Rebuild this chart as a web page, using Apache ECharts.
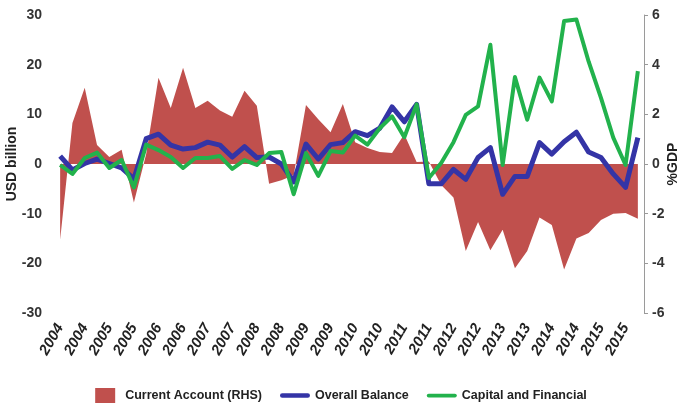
<!DOCTYPE html>
<html>
<head>
<meta charset="utf-8">
<script src="https://cdn.jsdelivr.net/npm/echarts@6/dist/echarts.min.js"></script>
<style>
html,body{margin:0;padding:0;background:#fff;}
#chart{width:682px;height:417px;}
</style>
</head>
<body>
<div id="chart"></div>
<script>
const years = ['2004','2005','2006','2007','2008','2009','2010','2011','2012','2013','2014','2015'];
const quarters = ['Q1','Q2','Q3','Q4'];
const categories = [];
years.forEach(y => quarters.forEach(q => categories.push(y + ' ' + q)));

// Current account, % of GDP (right axis)
const currentAccount = [
  -3.05, 1.65, 3.07, 0.77, 0.28, 0.57, -1.55, 0.4,
  3.47, 2.26, 3.88, 2.26, 2.55, 2.15, 1.9, 2.95,
  2.35, -0.8, -0.65, -0.45, 2.38, 1.8, 1.28, 2.42,
  0.88, 0.64, 0.48, 0.44, 1.2, 0.08, 0.1, -0.85,
  -1.35, -3.5, -2.34, -3.47, -2.65, -4.2, -3.5, -2.15,
  -2.46, -4.25, -3.0, -2.78, -2.25, -2.0, -1.97, -2.2
];
// Overall balance, USD billion (left axis)
const overallBalance = [
  1.6, -1.2, 0.1, 1.0, 0.1, -0.8, -3.0, 5.1,
  6.0, 3.8, 3.0, 3.3, 4.4, 3.8, 1.4, 3.5,
  1.3, 1.4, 0.0, -3.6, 4.0, 1.0, 3.9, 4.3,
  6.5, 5.7, 7.2, 11.5, 8.5, 12.0, -4.0, -4.0,
  -1.1, -3.1, 1.3, 3.3, -6.1, -2.5, -2.5, 4.3,
  2.0, 4.5, 6.4, 2.4, 1.3, -2.0, -4.7, 5.3
];
// Capital and financial account, USD billion (left axis)
const capitalFinancial = [
  -0.2, -2.0, 1.2, 2.3, -0.8, 0.8, -4.7, 3.9,
  2.8, 1.4, -0.8, 1.2, 1.2, 1.6, -1.0, 0.8,
  -0.2, 2.2, 2.4, -6.1, 2.2, -2.4, 2.6, 2.3,
  5.7, 3.9, 7.2, 9.6, 5.4, 12.0, -2.8, 0.2,
  4.4, 9.9, 11.6, 24.0, -0.2, 17.5, 8.9, 17.4,
  12.6, 28.8, 29.1, 20.6, 13.3, 5.3, -0.2, 18.7
];

const FONT = "'Liberation Sans Narrow', 'Liberation Sans', Arial, sans-serif";
const chart = echarts.init(document.getElementById('chart'), null, {renderer: 'canvas'});
chart.setOption({
  animation: false,
  backgroundColor: '#ffffff',
  grid: {left: 54, right: 38, top: 15, bottom: 104, containLabel: false, outerBoundsMode: 'none'},
  legend: {
    bottom: 9,
    left: 'center',
    itemGap: 18,
    itemWidth: 30,
    itemHeight: 15,
    textStyle: {fontFamily: FONT, fontWeight: 'bold', fontSize: 12.5, color: '#222'},
    data: [
      {name: 'Current Account (RHS)', icon: 'path://M0,0 L20,0 L20,15 L0,15 Z', symbolKeepAspect: true, itemStyle: {color: '#C0504D'}},
      {name: 'Overall Balance', icon: 'path://M2,0 L30,0 A2.5,2.5 0 0 1 30,5 L2,5 A2.5,2.5 0 0 1 2,0 Z', symbolKeepAspect: true, itemStyle: {color: '#3434A6'}},
      {name: 'Capital and Financial', icon: 'path://M2,0 L30,0 A2,2 0 0 1 30,4 L2,4 A2,2 0 0 1 2,0 Z', symbolKeepAspect: true, itemStyle: {color: '#22B24C'}}
    ]
  },
  xAxis: {
    type: 'category',
    data: categories,
    boundaryGap: true,
    axisLine: {show: false},
    axisTick: {show: false},
    splitLine: {show: false},
    axisLabel: {
      interval: 1,
      rotate: 60,
      margin: 12,
      fontFamily: FONT,
      fontWeight: 'bold',
      fontStyle: 'italic',
      fontSize: 15,
      color: '#222',
      formatter: v => v.slice(0, 4)
    }
  },
  yAxis: [
    {
      type: 'value', min: -30, max: 30, interval: 10,
      name: 'USD billion', nameLocation: 'middle', nameGap: 35, nameRotate: 90, nameMoveOverlap: false,
      nameTextStyle: {fontFamily: FONT, fontWeight: 'bold', fontSize: 14, color: '#222'},
      axisLine: {show: false}, axisTick: {show: false}, splitLine: {show: false},
      axisLabel: {fontFamily: FONT, fontWeight: 'bold', fontSize: 14, color: '#333', margin: 12}
    },
    {
      type: 'value', min: -6, max: 6, interval: 2, position: 'right',
      name: '%GDP', nameLocation: 'middle', nameGap: 22, nameRotate: 90, nameMoveOverlap: false,
      nameTextStyle: {fontFamily: FONT, fontWeight: 'bold', fontSize: 14, color: '#222'},
      axisLine: {show: true, lineStyle: {color: '#9a9a9a', width: 1}},
      axisTick: {show: true, length: 4, lineStyle: {color: '#9a9a9a'}},
      splitLine: {show: false},
      axisLabel: {fontFamily: FONT, fontWeight: 'bold', fontSize: 14, color: '#333', margin: 8}
    }
  ],
  series: [
    {
      name: 'Current Account (RHS)', type: 'line', yAxisIndex: 1,
      data: currentAccount, symbol: 'none', smooth: false,
      lineStyle: {width: 0, color: '#C0504D'},
      itemStyle: {color: '#C0504D'},
      areaStyle: {color: '#C0504D', opacity: 1}
    },
    {
      name: 'Overall Balance', type: 'line', yAxisIndex: 0,
      data: overallBalance, symbol: 'none', smooth: false,
      lineStyle: {width: 5, color: '#3434A6', join: 'round'},
      itemStyle: {color: '#3434A6'}
    },
    {
      name: 'Capital and Financial', type: 'line', yAxisIndex: 0,
      data: capitalFinancial, symbol: 'none', smooth: false,
      lineStyle: {width: 4, color: '#22B24C', join: 'round'},
      itemStyle: {color: '#22B24C'}
    }
  ]
});
</script>
</body>
</html>
